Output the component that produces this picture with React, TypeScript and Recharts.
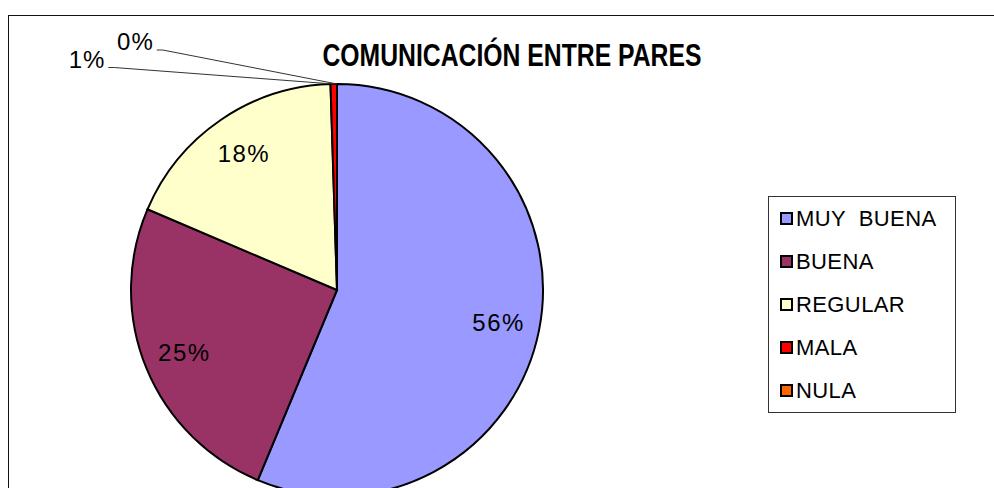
import React from 'react';
import { PieChart, Pie, Cell, Legend } from 'recharts';

const CATEGORIES = ['MUY  BUENA', 'BUENA', 'REGULAR', 'MALA', 'NULA'];
const COUNTS = [112, 50, 36, 1, 0];
const COLORS = ['#9999FF', '#993366', '#FFFFCC', '#FF0000', '#FF6600'];
// leader-line label anchors for the tiny slices, as fractions of the radius
const LEADER_OFFSETS: Record<number, [number, number]> = {
  3: [-1.11, -1.08],
  4: [-0.875, -1.165],
};

const data = CATEGORIES.map((name, i) => ({ name, value: COUNTS[i] }));

const RADIAN = Math.PI / 180;
const FONT = "'Liberation Sans', Arial, sans-serif";

const renderLabel = (props: any) => {
  const { cx, cy, midAngle, outerRadius, percent, index } = props;
  const text = `${Math.round(percent * 100)}%`;
  const lead = LEADER_OFFSETS[index];
  if (lead) {
    const sx = cx + outerRadius * Math.cos(-midAngle * RADIAN);
    const sy = cy + outerRadius * Math.sin(-midAngle * RADIAN);
    const ex = cx + lead[0] * outerRadius;
    const ey = cy + lead[1] * outerRadius;
    return (
      <g key={`lbl-${index}`}>
        <polyline points={`${ex},${ey} ${ex + 6},${ey} ${sx},${sy}`} fill="none" stroke="#333" strokeWidth={1} />
        <text x={ex - 3} y={ey} textAnchor="end" fontSize={24} letterSpacing={1} fill="#000" fontFamily={FONT}>
          {text}
        </text>
      </g>
    );
  }
  const r = outerRadius * 0.8;
  const x = cx + r * Math.cos(-midAngle * RADIAN);
  const y = cy + r * Math.sin(-midAngle * RADIAN);
  return (
    <text key={`lbl-${index}`} x={x} y={y} textAnchor="middle" dominantBaseline="central" fontSize={24}
      letterSpacing={1.5} fill="#000" fontFamily={FONT}>
      {text}
    </text>
  );
};

const renderLegend = (props: any) => {
  const payload = [...(props.payload || [])].sort(
    (a: any, b: any) => CATEGORIES.indexOf(a.value) - CATEGORIES.indexOf(b.value)
  );
  return (
    <div style={{
      width: 188, height: 217, border: '1px solid #333', background: '#fff', boxSizing: 'border-box',
      padding: '0 0 0 11px', fontFamily: FONT,
    }}>
      {payload.map((entry: any, i: number) => (
        <div key={`leg-${i}`} style={{ display: 'flex', alignItems: 'center', height: 43 }}>
          <span style={{
            width: 13, height: 13, boxSizing: 'border-box', border: '2px solid #000',
            background: entry.color, marginRight: 3, flexShrink: 0,
          }} />
          <span style={{ fontSize: 22, letterSpacing: 0.4, whiteSpace: 'pre', color: '#000' }}>{entry.value}</span>
        </div>
      ))}
    </div>
  );
};

export default function App() {
  return (
    <div style={{ position: 'absolute', left: 0, top: 0, width: 994, height: 488, overflow: 'hidden', background: '#fff' }}>
      <div style={{
        position: 'absolute', left: 8, top: 15, width: 1100, height: 600,
        borderLeft: '1.5px solid #111', borderTop: '1.5px solid #111',
      }} />
      <div style={{ position: 'absolute', left: 0, top: 0 }}>
        <PieChart width={994} height={488} margin={{ top: 0, right: 0, bottom: 0, left: 0 }}>
          <text x={512} y={66} textAnchor="middle" fontSize={31} fontWeight="bold" textLength={379}
            lengthAdjust="spacingAndGlyphs" fill="#000" fontFamily={FONT}>
            COMUNICACIÓN ENTRE PARES
          </text>
          <Pie
            data={data}
            dataKey="value"
            nameKey="name"
            cx={337}
            cy={290}
            outerRadius={206}
            startAngle={90}
            endAngle={-270}
            stroke="#000"
            strokeWidth={2}
            label={renderLabel}
            labelLine={false}
            isAnimationActive={false}
          >
            {data.map((entry, i) => (
              <Cell key={`cell-${i}`} fill={COLORS[i]} />
            ))}
          </Pie>
          <Legend
            content={renderLegend}
            layout="vertical"
            wrapperStyle={{ position: 'absolute', left: 768, top: 196, width: 188, height: 217 }}
          />
        </PieChart>
      </div>
    </div>
  );
}
